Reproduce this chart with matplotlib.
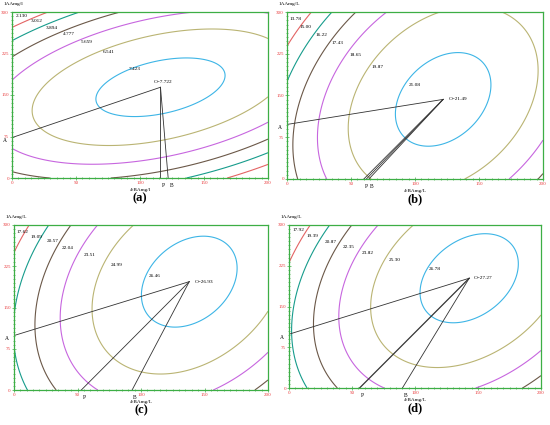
import numpy as np
import matplotlib.pyplot as plt
from matplotlib.ticker import MultipleLocator

plt.rcParams['font.family'] = ['Liberation Serif', 'DejaVu Serif']

# Data
panels = ["(a)", "(b)", "(c)", "(d)"]
y_names = ["1AAmg/l", "1AAmg/L", "1AAmg/L", "1AAmg/L"]
x_names = ["4-BAmg/l", "4-BAmg/L", "4-BAmg/L", "4-BAmg/L"]

levels_a = [2.130, 3.012, 3.894, 4.777, 5.659, 6.541, 7.423]
levels_b = [13.78, 15.00, 16.22, 17.43, 18.65, 19.87, 21.08]
levels_c = [17.62, 19.09, 20.57, 22.04, 23.51, 24.99, 26.46]
levels_d = [17.92, 19.39, 20.87, 22.35, 23.82, 25.30, 26.78]
all_levels = [levels_a, levels_b, levels_c, levels_d]

# optimum point O (4-BA, 1AA) and its value
opt_x = [116, 122, 138, 143]
opt_y = [164, 143, 197, 202]
opt_val = [7.722, 21.49, 26.93, 27.27]

# A on the 1AA axis, P and B on the 4-BA axis
point_a = [73, 98, 99, 99]
point_p = [116, 60, 53, 56]
point_b = [122, 64, 93, 90]

# quadratic model curvature around O (x^2, y^2, xy terms)
coef_xx = [1.40e-4, 3.26e-4, 3.63e-4, 3.60e-4]
coef_yy = [1.27e-4, 6.42e-5, 7.54e-5, 8.15e-5]
coef_xy = [-1.07e-4, -9.0e-5, -9.8e-5, -1.11e-4]

x_ticks = [0, 50, 100, 150, 200]
y_ticks = [0, 75, 150, 225, 300]

# Layout (pixel boxes: left, top, right, bottom)
boxes = [(12, 12, 268, 178), (287, 12, 543, 179),
         (14, 225, 268, 390), (289, 225, 541, 388)]
label_pos = [
    [(3, 293), (15, 284), (26, 271), (40, 261), (54, 245), (71, 228), (91, 197)],
    [(2, 287), (10, 273), (22, 259), (35, 245), (49, 223), (66, 201), (95, 168)],
    [(2, 288), (13, 278), (26, 270), (38, 258), (55, 245), (76, 228), (106, 207)],
    [(3, 291), (14, 279), (28, 268), (43, 259), (58, 248), (79, 235), (111, 219)],
]
line_colors = ["#e36464", "#179c8c", "#6b5848", "#c766df", "#bab473", "#3db5e6"]
green = "#3dae45"
tick_red = "#e8383a"

fig = plt.figure(figsize=(5.5, 4.25), dpi=100)
xs = np.linspace(0, 200, 401)
ys = np.linspace(0, 300, 601)
X, Y = np.meshgrid(xs, ys)

for i in range(4):
    l, t, r, b = boxes[i]
    ax = fig.add_axes([l / 550, 1 - b / 425, (r - l) / 550, (b - t) / 425])

    dx = X - opt_x[i]
    dy = Y - opt_y[i]
    Z = opt_val[i] - (coef_xx[i] * dx**2 + coef_yy[i] * dy**2 + coef_xy[i] * dx * dy)
    ax.contour(X, Y, Z, levels=all_levels[i][1:], colors=line_colors, linewidths=0.8)

    for lev, (lx, ly) in zip(all_levels[i], label_pos[i]):
        txt = f"{lev:.3f}" if i == 0 else f"{lev:.2f}"
        ax.text(lx, ly, txt, fontsize=3.8, ha="left", va="center")

    # lines to the optimum
    ox, oy = opt_x[i], opt_y[i]
    ax.plot([0, ox], [point_a[i], oy], color="#333333", lw=0.6)
    ax.plot([point_p[i], ox], [0, oy], color="#333333", lw=0.9 if i == 3 else 0.6)
    ax.plot([point_b[i], ox], [0, oy], color="#333333", lw=0.6)
    if i == 1:
        ax.plot([point_p[i] + 2, ox], [0, oy], color="#333333", lw=0.6)

    if i == 0:
        ax.text(ox - 5, oy + 6, f"O={opt_val[i]}", fontsize=3.8, ha="left", va="bottom")
    else:
        ax.text(ox + 4, oy, f"O={opt_val[i]}", fontsize=3.8, ha="left", va="center")

    ax.annotate("A", (0, point_a[i]), xytext=(-5, -3), textcoords="offset pixels",
                fontsize=4, ha="right", va="center")
    ax.annotate("P", (point_p[i], 0), xytext=(3, -5), textcoords="offset pixels",
                fontsize=4, ha="center", va="top")
    ax.annotate("B", (point_b[i], 0), xytext=(3, -5), textcoords="offset pixels",
                fontsize=4, ha="center", va="top")

    ax.set_xlim(0, 200)
    ax.set_ylim(0, 300)
    ax.set_xticks(x_ticks)
    ax.set_yticks(y_ticks)
    ax.xaxis.set_minor_locator(MultipleLocator(5))
    ax.yaxis.set_minor_locator(MultipleLocator(7.5))
    ax.tick_params(which="both", colors=green, labelcolor=tick_red, labelsize=3.6,
                   direction="inout", length=2.5, width=0.5, pad=1)
    ax.tick_params(which="minor", length=1.5)
    for sp in ax.spines.values():
        sp.set_color(green)
        sp.set_linewidth(0.9)

    ax.annotate(y_names[i], (0, 1), xycoords="axes fraction", xytext=(-8, 8),
                textcoords="offset pixels", fontsize=3.8, ha="left", va="center")
    ax.annotate(x_names[i], (0.5, 0), xycoords="axes fraction", xytext=(0, -12),
                textcoords="offset pixels", fontsize=3.8, ha="center", va="center")
    ax.annotate(panels[i], (0.5, 0), xycoords="axes fraction", xytext=(0, -20),
                textcoords="offset pixels", fontsize=9, fontweight="bold",
                ha="center", va="center")

fig.savefig("out.png", dpi=100)
